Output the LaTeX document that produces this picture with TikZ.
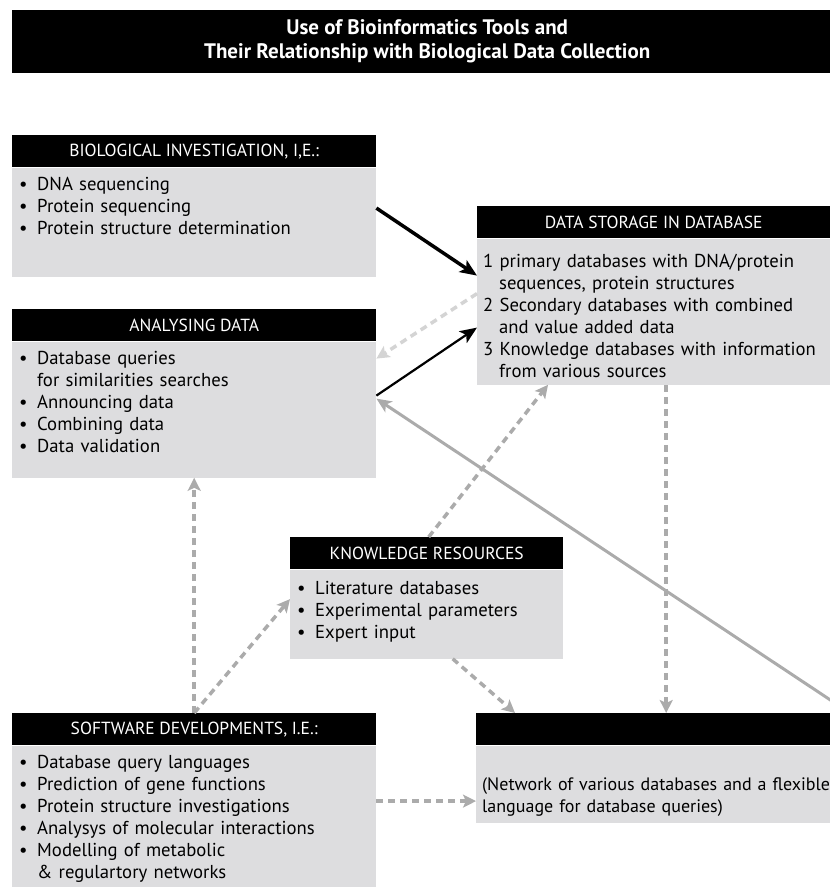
\documentclass[tikz,border=0pt]{standalone}
\usepackage{fontspec}
\setmainfont{PT Sans}
\usepackage{tikz}
\usetikzlibrary{arrows.meta,positioning}
\definecolor{boxgray}{HTML}{DDDDDF}
\definecolor{linegray}{HTML}{ABABAB}
\definecolor{palegray}{HTML}{D4D4D4}
\newcommand{\bul}{\makebox[19pt][l]{\hspace*{1pt}\textbullet}}
\newcommand{\ind}{\hspace*{19pt}}
\tikzset{
  titlebar/.style={fill=black,text=white,anchor=north west,minimum width=830pt,minimum height=63pt,inner sep=0pt,align=center,font=\fontsize{21}{24}\selectfont\bfseries},
  head/.style   ={fill=black,text=white,anchor=north west,minimum height=32pt,inner sep=0pt,font=\fontsize{17.5}{19}\selectfont},
  body/.style   ={fill=boxgray,below=0pt of #1,inner xsep=6pt,inner ysep=6pt,align=left,font=\fontsize{18.7}{22}\selectfont},
  blackarrow/.style={black,-{Stealth[length=17pt,width=14pt,inset=4pt]}},
  grayarrow/.style ={linegray,line width=3pt,-{Stealth[length=15pt,width=13pt,inset=4pt]}},
  dasharrow/.style ={linegray,line width=3.5pt,dash pattern=on 7pt off 5pt,-{Stealth[length=13pt,width=13pt,inset=3pt]}},
}

\begin{document}
\begin{tikzpicture}[x=1pt,y=-1pt]
  \useasboundingbox (0,0) rectangle (830,887);
  \node[titlebar] (title) at (12,10) {Use of Bioinformatics Tools and\\Their Relationship with Biological Data Collection};

  \node[head,minimum width=364pt] (bioh) at (12,135) {BIOLOGICAL INVESTIGATION, I,E.:};
  \node[body=bioh,text width=352pt,text height=17pt,text depth=80pt] (bio)
    {\bul DNA sequencing\\\bul Protein sequencing\\\bul Protein structure determination};

  \node[head,minimum width=364pt] (anah) at (12,309) {ANALYSING DATA};
  \node[body=anah,text width=352pt,text height=17pt,text depth=107pt] (ana)
    {\bul Database queries\\\ind for similarities searches\\\bul Announcing data\\\bul Combining data\\\bul Data validation};

  \node[head,minimum width=370pt] (storeh) at (477,206) {\hspace*{-17pt}DATA STORAGE IN DATABASE};
  \node[body=storeh,text width=358pt,text height=23pt,text depth=111pt] (store)
    {1 primary databases with DNA/protein\\\hspace*{16pt}sequences, protein structures\\2 Secondary databases with combined\\\hspace*{16pt}and value added data\\3 Knowledge databases with information\\\hspace*{16pt}from various sources};

  \node[head,minimum width=273pt] (knowh) at (290,537) {KNOWLEDGE RESOURCES};
  \node[body=knowh,text width=261pt,text height=19pt,text depth=58pt] (know)
    {\bul Literature databases\\\bul Experimental parameters\\\bul Expert input};

  \node[head,minimum width=400pt] (neth) at (476,713) {};
  \node[body=neth,text width=388pt,text height=39pt,text depth=26pt,font=\fontsize{18}{22}\selectfont] (net)
    {(Network of various databases and a flexible\\language for database queries)};

  \node[head,minimum width=364pt] (softh) at (12,713) {SOFTWARE DEVELOPMENTS, I.E.:};
  \node[body=softh,text width=352pt,text height=17pt,text depth=120pt] (soft)
    {\bul Database query languages\\\bul Prediction of gene functions\\\bul Protein structure investigations\\\bul Analysys of molecular interactions\\\bul Modelling of metabolic\\\ind \& regulartory networks};

  \coordinate (offpage) at (850,713);

  \draw[blackarrow,line width=3.5pt] ([yshift=14pt]bio.east) -- ([yshift=36pt]store.west);
  \draw[blackarrow,line width=2.2pt] ([yshift=14pt]ana.east) -- ([yshift=-16pt]store.west);
  \draw[dasharrow,palegray] ([yshift=18pt]store.west) -- ([yshift=51pt]ana.east);
  \draw[grayarrow] (offpage) -- ([yshift=11pt]ana.east);
  \draw[dasharrow] ([xshift=4pt]store.south) -- ([xshift=4pt]store.south |- neth.north);
  \draw[dasharrow] ([xshift=2pt]knowh.north) -- ([xshift=71pt]store.south west);
  \draw[dasharrow] (softh.north) -- (softh.north |- ana.south);
  \draw[dasharrow] (softh.north) -- ([yshift=15pt]know.west);
  \draw[dasharrow] ([xshift=26pt]know.south) -- ([xshift=39pt]neth.north west);
  \draw[dasharrow] ([yshift=19pt]soft.east) -- ([yshift=19pt]soft.east -| net.west);
\end{tikzpicture}
\end{document}
